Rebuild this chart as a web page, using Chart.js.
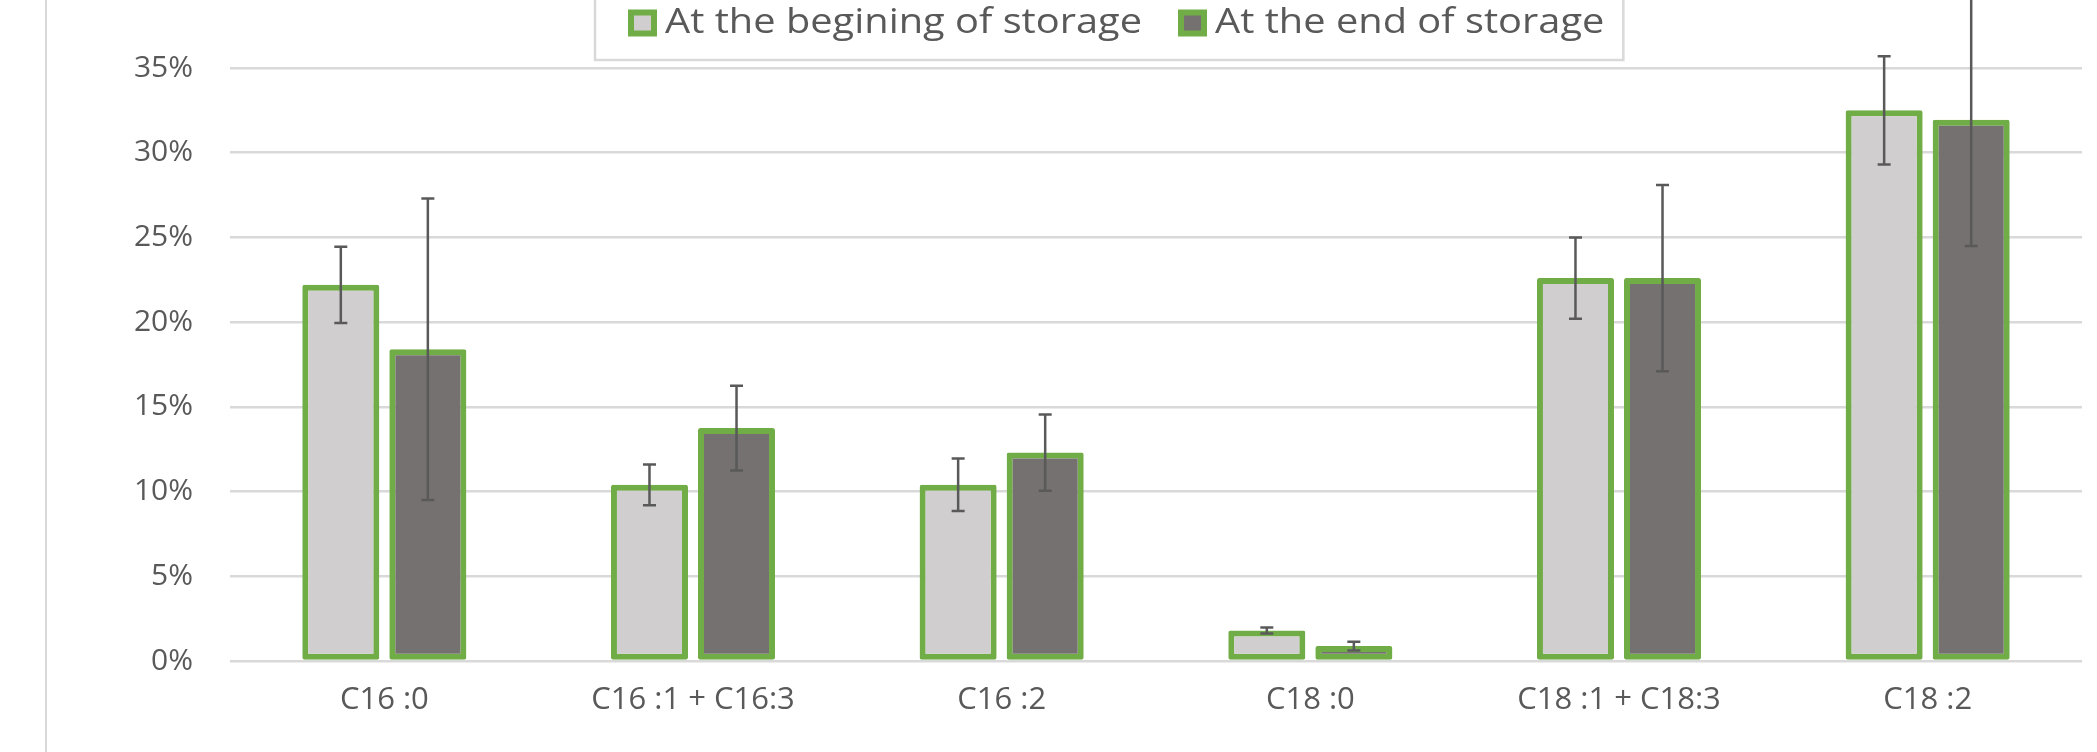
<!DOCTYPE html>
<html>
<head>
<meta charset="utf-8">
<script src="https://cdn.jsdelivr.net/npm/chart.js@4"></script>
<style>
  html, body { margin: 0; padding: 0; background: #fff; }
  #wrap { position: relative; width: 2097px; height: 752px; overflow: hidden; }
  #edge { position: absolute; left: 45px; top: 0; width: 2px; height: 752px; background: #d9d9d9; }
  canvas { position: absolute; left: 0; top: 0; }
</style>
</head>
<body>
<div id="wrap">
  <div id="edge"></div>
  <canvas id="fattyChart" width="2097" height="752"></canvas>
</div>
<script>
const categories = ['C16 :0', 'C16 :1 + C16:3', 'C16 :2', 'C18 :0', 'C18 :1 + C18:3', 'C18 :2'];
const seriesNames = ['At the begining of storage', 'At the end of storage'];
const beginValues = [22.2, 10.4, 10.4, 1.8, 22.6, 32.5];
const beginErrors = [2.25, 1.2, 1.55, 0.17, 2.4, 3.2];
const endValues = [18.4, 13.75, 12.3, 0.88, 22.6, 31.95];
const endErrors = [8.9, 2.5, 2.25, 0.26, 5.5, 7.45];
const yTicks = [0, 5, 10, 15, 20, 25, 30, 35];

const textColor = '#595959';
const fontFamily = "'Open Sans', 'Noto Sans', sans-serif";

// error bars drawn over the bars, not clipped so the tall one runs off the top
const errorBars = {
  id: 'errorBars',
  afterDatasetsDraw(chart) {
    const { ctx } = chart;
    const y = chart.scales.y;
    ctx.save();
    ctx.strokeStyle = textColor;
    ctx.lineWidth = 2.5;
    chart.data.datasets.forEach((ds, i) => {
      const meta = chart.getDatasetMeta(i);
      meta.data.forEach((bar, j) => {
        const top = y.getPixelForValue(ds.data[j] + ds.errors[j]);
        const bot = y.getPixelForValue(ds.data[j] - ds.errors[j]);
        const cap = 6.5;
        ctx.beginPath();
        ctx.moveTo(bar.x, top);
        ctx.lineTo(bar.x, bot);
        ctx.moveTo(bar.x - cap, top);
        ctx.lineTo(bar.x + cap, top);
        ctx.moveTo(bar.x - cap, bot);
        ctx.lineTo(bar.x + cap, bot);
        ctx.stroke();
      });
    });
    ctx.restore();
  }
};

// legend box like the Excel one, cut at the top of the picture
// (the source text is a bit stretched sideways, hence the x scale)
const boxLegend = {
  id: 'boxLegend',
  afterDraw(chart) {
    const { ctx } = chart;
    const left = 595, bottom = 60, midY = 23;
    const mw = 29, mh = 27, gap = 8, itemGap = 36, stretch = 1.17;
    ctx.save();
    ctx.font = '34px ' + fontFamily;
    ctx.textBaseline = 'middle';
    let x = left + 33;
    const items = chart.data.datasets.map(ds => {
      const w = ctx.measureText(ds.label).width * stretch;
      const it = { ds, x, w };
      x += mw + gap + w + itemGap;
      return it;
    });
    const right = x - itemGap + 19;
    ctx.fillStyle = '#fff';
    ctx.fillRect(left, -10, right - left, bottom + 10);
    ctx.strokeStyle = '#d9d9d9';
    ctx.lineWidth = 2.5;
    ctx.strokeRect(left, -10, right - left, bottom + 10);
    items.forEach(it => {
      ctx.fillStyle = it.ds.borderColor;
      ctx.fillRect(it.x, midY - mh / 2, mw, mh);
      ctx.fillStyle = it.ds.backgroundColor;
      ctx.fillRect(it.x + 6, midY - mh / 2 + 6, mw - 12, mh - 12);
      ctx.save();
      ctx.translate(it.x + mw + gap, midY);
      ctx.scale(stretch, 1);
      ctx.fillStyle = textColor;
      ctx.fillText(it.ds.label, 0, 0);
      ctx.restore();
    });
    ctx.restore();
  }
};

new Chart(document.getElementById('fattyChart'), {
  type: 'bar',
  data: {
    labels: categories,
    datasets: [{
      label: seriesNames[0],
      data: beginValues,
      errors: beginErrors,
      backgroundColor: '#d0cece',
      borderColor: '#70ad47',
      borderWidth: 6,
      borderSkipped: false,
      borderRadius: 2
    }, {
      label: seriesNames[1],
      data: endValues,
      errors: endErrors,
      backgroundColor: '#767171',
      borderColor: '#70ad47',
      borderWidth: 6,
      borderSkipped: false,
      borderRadius: 2
    }]
  },
  options: {
    responsive: false,
    animation: false,
    categoryPercentage: 0.564,
    barPercentage: 0.885,
    layout: { padding: { top: 68, right: 15, left: 0, bottom: 0 } },
    plugins: {
      legend: { display: false },
      tooltip: { enabled: false }
    },
    scales: {
      x: {
        grid: { display: false, drawTicks: false },
        border: { display: false },
        ticks: {
          color: textColor,
          font: { family: fontFamily, size: 31 },
          padding: 21,
          maxRotation: 0,
          autoSkip: false
        },
        afterFit: s => { s.height = 91; }
      },
      y: {
        min: 0,
        max: 35,
        afterBuildTicks: s => { s.ticks = yTicks.map(v => ({ value: v })); },
        grid: { color: '#d9d9d9', lineWidth: 2.5, drawTicks: false },
        border: { display: false },
        ticks: {
          color: textColor,
          font: { family: fontFamily, size: 30 },
          padding: 37,
          callback: v => v + '%'
        },
        afterFit: s => { s.width = 230; }
      }
    }
  },
  plugins: [errorBars, boxLegend]
});
</script>
</body>
</html>
